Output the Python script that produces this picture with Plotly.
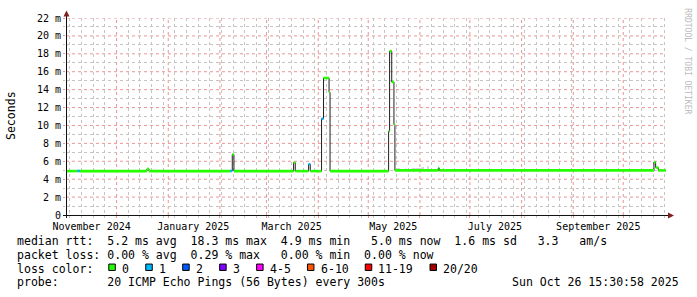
import plotly.graph_objects as go
from datetime import datetime, timedelta

# ---------------- data ----------------
range_start = "2024-10-31 15:30:58"
range_end = "2025-10-26 15:30:58"

# median RTT as runs: start of run, median (ms), lost pings (of 20)
seg_start = [
    "2024-10-31 15:30:58", "2024-11-07 10:00", "2024-11-08 20:00",
    "2024-12-19 05:00", "2024-12-20 10:00",
    "2025-02-07 05:00", "2025-02-08 10:00", "2025-02-09 10:00",
    "2025-03-17 05:00", "2025-03-18 05:00",
    "2025-03-26 05:00", "2025-03-27 05:00",
    "2025-04-02 23:30", "2025-04-04 04:00", "2025-04-07 11:30", "2025-04-08 02:00",
    "2025-05-13 05:00", "2025-05-13 19:00", "2025-05-15 02:00", "2025-05-16 10:00",
    "2025-05-17 00:00", "2025-06-12 00:00", "2025-06-12 14:00",
    "2025-10-19 10:00", "2025-10-20 10:00", "2025-10-22 00:00",
]
median_ms = [
    4.9, 4.92, 4.9,
    5.15, 4.9,
    4.92, 6.75, 4.9,
    5.85, 4.9,
    5.67, 4.9,
    10.75, 15.3, 13.7, 4.9,
    9.35, 18.3, 14.85, 10.1,
    4.98, 5.25, 4.98,
    5.9, 5.3, 4.98,
]
loss_count = [
    0, 1, 0,
    0, 0,
    1, 0, 0,
    0, 0,
    1, 0,
    1, 0, 0, 0,
    0, 0, 0, 0,
    0, 0, 0,
    0, 0, 0,
]

# smoke (ping spread) visible above the median band
smoke_start = ["2025-05-18 05:00", "2025-05-23 00:00", "2025-05-27 00:00", "2025-06-02 00:00", "2025-06-05 05:00"]
smoke_end = ["2025-05-20 00:00", "2025-05-24 05:00", "2025-06-02 00:00", "2025-06-03 10:00", "2025-06-06 10:00"]
smoke_top = [5.25, 5.2, 5.25, 5.35, 5.45]

loss_labels = ["0", "1", "2", "3", "4-5", "6-10", "11-19", "20/20"]
loss_colors = ["#26ff00", "#00b8ff", "#0059ff", "#7e00ff", "#ff00ff", "#ff5500", "#ff0000", "#a10000"]
loss_upper = [0, 1, 2, 3, 5, 10, 19, 20]

month_ticks = ["2024-11-01", "2024-12-01", "2025-01-01", "2025-02-01", "2025-03-01", "2025-04-01",
               "2025-05-01", "2025-06-01", "2025-07-01", "2025-08-01", "2025-09-01", "2025-10-01"]
month_text = ["November 2024", "", "January 2025", "", "March 2025", "",
              "May 2025", "", "July 2025", "", "September 2025", ""]
y_ticks = [0, 2, 4, 6, 8, 10, 12, 14, 16, 18, 20, 22]
y_text = ["0", "2 m", "4 m", "6 m", "8 m", "10 m", "12 m", "14 m", "16 m", "18 m", "20 m", "22 m"]
y_minor = [1, 3, 5, 7, 9, 11, 13, 15, 17, 19, 21]

legend_rtt = "median rtt:  5.2 ms avg  18.3 ms max  4.9 ms min   5.0 ms now  1.6 ms sd   3.3   am/s"
legend_loss = "packet loss: 0.00 % avg  0.29 % max   0.00 % min  0.00 % now"
legend_color = "loss color:"
legend_probe = "probe:       20 ICMP Echo Pings (56 Bytes) every 300s"
legend_date = "Sun Oct 26 15:30:58 2025"

# weekly (Sunday) minor grid positions
week_ticks = []
d = datetime(2024, 11, 3)
while d < datetime(2025, 10, 26, 15, 30):
    if d.day != 1:
        week_ticks.append(d.strftime("%Y-%m-%d"))
    d += timedelta(days=7)

# ---------------- figure ----------------
W, H = 697, 297
L, T, PW, PH = 66, 15, 600, 200
MONO = "DejaVu Sans Mono"
MAJ = "rgba(222,79,79,0.6)"
MIN = "#c4c4c4"


def px(x):
    return (x - L) / PW


def py(y):
    return (T + PH - y) / PH


def bucket(c):
    for i, u in enumerate(loss_upper):
        if c <= u:
            return i
    return len(loss_upper) - 1


fig = go.Figure()

# smoke
sx, sy = [], []
for s, e, top in zip(smoke_start, smoke_end, smoke_top):
    sx += [s, s, e, e, s, None]
    sy += [4.9, top, top, 4.9, 4.9, None]
fig.add_trace(go.Scatter(x=sx, y=sy, mode="lines", fill="toself", fillcolor="#d6d6d6",
                         line=dict(width=0, color="#d6d6d6"), hoverinfo="skip"))

seg_end = seg_start[1:] + [range_end]

# dark median line (steps)
fig.add_trace(go.Scatter(x=seg_start + [range_end], y=median_ms + [median_ms[-1]],
                         mode="lines", line=dict(color="#202020", width=1, shape="hv"),
                         hoverinfo="skip"))

# loss-coloured median band
for b, col in enumerate(loss_colors):
    xs, ys = [], []
    for s, e, m, c in zip(seg_start, seg_end, median_ms, loss_count):
        if bucket(c) == b:
            xs += [s, e, None]
            ys += [m, m, None]
    if xs:
        fig.add_trace(go.Scatter(x=xs, y=ys, mode="lines", line=dict(color=col, width=2.6),
                                 hoverinfo="skip"))

fig.update_layout(
    width=W, height=H, margin=dict(l=L, r=W - L - PW, t=T, b=H - T - PH),
    paper_bgcolor="white", plot_bgcolor="white", showlegend=False,
    font=dict(family=MONO, size=10, color="black"),
    xaxis=dict(type="date", range=[range_start, range_end],
               tickmode="array", tickvals=month_ticks, ticktext=month_text, ticklabelshift=25,
               showgrid=False, ticks="outside", ticklen=2, tickcolor=MAJ,
               zeroline=False, showline=False,
               tickfont=dict(family=MONO, size=10, color="black"),
               minor=dict(tickmode="array", tickvals=week_ticks, showgrid=True, gridcolor=MIN,
                          gridwidth=1, griddash="dot", ticks="outside", ticklen=2, tickcolor=MIN)),
    yaxis=dict(range=[0, 22], tickmode="array", tickvals=y_ticks, ticktext=y_text,
               showgrid=False, ticks="outside", ticklen=2, tickcolor=MAJ,
               zeroline=False, showline=False,
               tickfont=dict(family=MONO, size=10, color="black"),
               minor=dict(tickmode="array", tickvals=y_minor, showgrid=True, gridcolor=MIN,
                          gridwidth=1, griddash="dot", ticks="outside", ticklen=2, tickcolor=MIN)),
)

shapes = []
# major grid (months / 2 ms) placed through the axes
for mt in month_ticks:
    shapes.append(dict(type="line", xref="x", yref="paper", x0=mt, x1=mt, y0=0, y1=1,
                       line=dict(color=MAJ, width=1, dash="dot"), layer="below"))
for v in y_ticks[1:]:
    shapes.append(dict(type="line", xref="paper", yref="y", x0=0, x1=1, y0=v, y1=v,
                       line=dict(color=MAJ, width=1, dash="dot"), layer="below"))

AX = "#101010"
ARR = "#801f1f"
# axes
shapes.append(dict(type="line", xref="paper", yref="paper", x0=px(63), x1=px(670),
                   y0=py(215.5), y1=py(215.5), line=dict(color=AX, width=1), layer="above"))
shapes.append(dict(type="line", xref="paper", yref="paper", x0=px(66.5), x1=px(66.5),
                   y0=py(218), y1=py(11), line=dict(color=AX, width=1), layer="above"))
# arrows
shapes.append(dict(type="path", xref="paper", yref="paper",
                   path=f"M {px(674)} {py(215.5)} L {px(668)} {py(212.5)} L {px(668)} {py(218.5)} Z",
                   fillcolor=ARR, line=dict(color=ARR, width=0), layer="above"))
shapes.append(dict(type="path", xref="paper", yref="paper",
                   path=f"M {px(66.5)} {py(7.5)} L {px(63.5)} {py(13.5)} L {px(69.5)} {py(13.5)} Z",
                   fillcolor=ARR, line=dict(color=ARR, width=0), layer="above"))

annotations = []
LF = 11.54


def txt(x, y, s, anchor="left", size=LF, color="black", angle=0, yanchor="middle"):
    annotations.append(dict(x=px(x), y=py(y), xref="paper", yref="paper", text=s.replace(" ", "\u00a0"),
                            showarrow=False, xanchor=anchor, yanchor=yanchor, textangle=angle,
                            font=dict(family=MONO, size=size, color=color)))


txt(15, 241.5, legend_rtt)
txt(15, 255.5, legend_loss)
txt(15, 269.5, legend_color)
txt(15, 283.5, legend_probe)
txt(681, 283.5, legend_date, anchor="right")

bx = 108.3
for lab, col in zip(loss_labels, loss_colors):
    shapes.append(dict(type="rect", xref="paper", yref="paper", x0=px(bx + 0.5), x1=px(bx + 7.0),
                       y0=py(264.8), y1=py(271.3), fillcolor=col, line=dict(color="black", width=1),
                       layer="above"))
    txt(bx + 11.7, 269.5, lab)
    bx += 13 + len(lab) * 6.95 + 17.0

txt(10.5, 114, "Seconds", anchor="center", angle=-90)
txt(688, 59, "RRDTOOL / TOBI OETIKER", anchor="center", size=8, color="#bbbbbb", angle=90)

fig.update_layout(shapes=shapes, annotations=annotations)
fig.write_html("out.html")
